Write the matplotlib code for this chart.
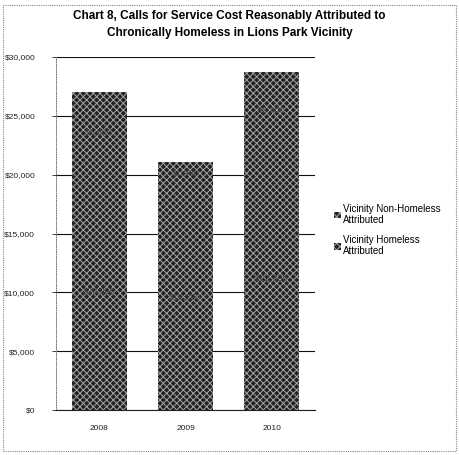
import numpy as np
import matplotlib.pyplot as plt
from matplotlib.patches import Rectangle

years = ['2008', '2009', '2010']
homeless = [20200, 19200, 22300]
non_homeless = [6800, 1900, 6400]
yticks = [0, 5000, 10000, 15000, 20000, 25000, 30000]
ytick_labels = ['$0', '$5,000', '$10,000', '$15,000', '$20,000', '$25,000', '$30,000']

plt.rcParams['font.family'] = ['Liberation Sans', 'DejaVu Sans']
plt.rcParams['hatch.linewidth'] = 0.7

fig = plt.figure(figsize=(4.59, 4.55), dpi=100)
ax = fig.add_axes([56 / 459, 1 - 410 / 455, 259 / 459, 353 / 455])

x = np.arange(len(years))
b1 = ax.bar(x, homeless, width=0.64, color='#222222', edgecolor='#a8a8a8',
            linewidth=0, hatch='xxxxx', zorder=2, label='Vicinity Homeless\nAttributed')
b2 = ax.bar(x, non_homeless, width=0.64, bottom=homeless, color='#222222',
            edgecolor='#a8a8a8', linewidth=0, hatch='xxxxx', zorder=2,
            label='Vicinity Non-Homeless\nAttributed')

for i in range(len(years)):
    ax.text(x[i], homeless[i] / 2, '${:,}'.format(homeless[i]), ha='center', va='center',
            fontsize=6.5, color='#4a4a4a', zorder=3)
    ax.text(x[i], homeless[i] + non_homeless[i] / 2, '${:,}'.format(non_homeless[i]),
            ha='center', va='center', fontsize=6.5, color='#4a4a4a', zorder=3)

ax.set_ylim(0, 30000)
ax.set_xlim(-0.5, 2.5)
ax.set_yticks(yticks)
ax.set_yticklabels(ytick_labels, fontsize=6)
ax.set_xticks(x)
ax.set_xticklabels(years, fontsize=6)
ax.tick_params(axis='y', length=3, width=0.6, pad=12, colors='#222222')
ax.tick_params(axis='x', length=0, pad=11, colors='#222222')
ax.yaxis.grid(True, color='#111111', linewidth=0.8, zorder=1)
ax.set_axisbelow(True)
for s in ['top', 'right']:
    ax.spines[s].set_visible(False)
ax.spines['left'].set_linestyle((0, (1, 1.5)))
ax.spines['left'].set_color('#777777')
ax.spines['left'].set_linewidth(0.7)
ax.spines['bottom'].set_color('#222222')
ax.spines['bottom'].set_linewidth(0.8)

handles = [b2, b1]
leg = fig.legend(handles, [h.get_label() for h in handles], loc='center left',
                 bbox_to_anchor=(325 / 459, 1 - 230 / 455), frameon=False, fontsize=7,
                 handlelength=0.7, handleheight=0.7, handletextpad=0.3, labelspacing=1.0)

fig.text(0.5, 1 - 16 / 455, 'Chart 8, Calls for Service Cost Reasonably Attributed to',
         ha='center', va='center', fontsize=8.5, fontweight='bold')
fig.text(0.5, 1 - 33 / 455, 'Chronically Homeless in Lions Park Vicinity',
         ha='center', va='center', fontsize=8.5, fontweight='bold')

fig.patches.append(Rectangle((3 / 459, 4 / 455), 453 / 459, 446 / 455, transform=fig.transFigure,
                             fill=False, edgecolor='#888888', linewidth=0.8, linestyle=(0, (1, 1))))

fig.savefig('out.png', dpi=100)
